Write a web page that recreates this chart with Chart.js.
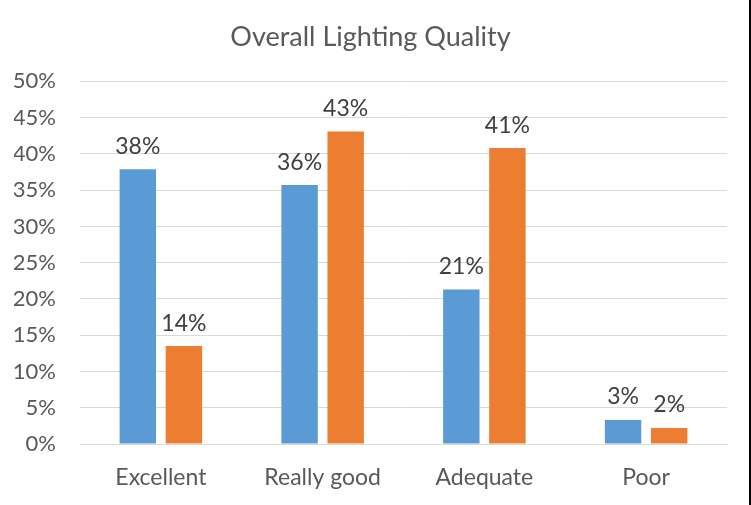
<!DOCTYPE html>
<html>
<head>
<meta charset="utf-8">
<script src="https://cdn.jsdelivr.net/npm/chart.js@4"></script>
<style>
  html, body { margin: 0; padding: 0; background: #fff; }
  #wrap { width: 749px; height: 505px; border-right: 2px solid #000; }
  canvas { display: block; }
</style>
</head>
<body>
<div id="wrap"><canvas id="chart" width="749" height="505"></canvas></div>
<script>
// ── Data ─────────────────────────────────────────────────────────────────────
const categories = ['Excellent', 'Really good', 'Adequate', 'Poor'];
const seriesA    = [37.9, 35.7, 21.3, 3.3];   // blue
const seriesB    = [13.5, 43.1, 40.8, 2.2];   // orange
const yTicks     = [0, 5, 10, 15, 20, 25, 30, 35, 40, 45, 50];

const FONT = 'Lato, "Open Sans", sans-serif';

// ── Value labels above each bar ──────────────────────────────────────────────
const barLabels = {
  id: 'barLabels',
  afterDatasetsDraw(chart) {
    const ctx = chart.ctx;
    ctx.save();
    ctx.font = '23px ' + FONT;
    ctx.fillStyle = '#404040';
    ctx.textAlign = 'center';
    ctx.textBaseline = 'middle';
    chart.data.datasets.forEach((ds, i) => {
      chart.getDatasetMeta(i).data.forEach((bar, j) => {
        ctx.fillText(Math.round(ds.data[j]) + '%', bar.x, bar.y - 23);
      });
    });
    ctx.restore();
  }
};

new Chart(document.getElementById('chart'), {
  type: 'bar',
  data: {
    labels: categories,
    datasets: [
      { data: seriesA, backgroundColor: '#5B9BD5' },
      { data: seriesB, backgroundColor: '#ED7D31' }
    ]
  },
  options: {
    animation: false,
    responsive: false,
    layout: { padding: { left: 14, right: 22, top: 0, bottom: 0 } },
    datasets: { bar: { barPercentage: 0.79, categoryPercentage: 0.57 } },
    plugins: {
      legend: { display: false },
      tooltip: { enabled: false },
      title: {
        display: true,
        text: 'Overall Lighting Quality',
        color: '#595959',
        font: { family: FONT, size: 27, weight: 'normal' },
        padding: { top: 21, bottom: 28 }
      }
    },
    scales: {
      x: {
        afterFit: axis => { axis.height = 61; },
        grid: { display: false, drawTicks: false },
        border: { color: '#D9D9D9' },
        ticks: { color: '#595959', font: { family: FONT, size: 23 }, padding: 20 }
      },
      y: {
        min: 0, max: 50,
        afterBuildTicks: axis => { axis.ticks = yTicks.map(v => ({ value: v })); },
        afterFit: axis => { axis.width = 66; },
        grid: { color: '#D9D9D9', drawTicks: false },
        border: { display: false },
        ticks: {
          color: '#595959',
          font: { family: FONT, size: 22 },
          padding: 24,
          callback: v => v + '%'
        }
      }
    }
  },
  plugins: [barLabels]
});
</script>
</body>
</html>
